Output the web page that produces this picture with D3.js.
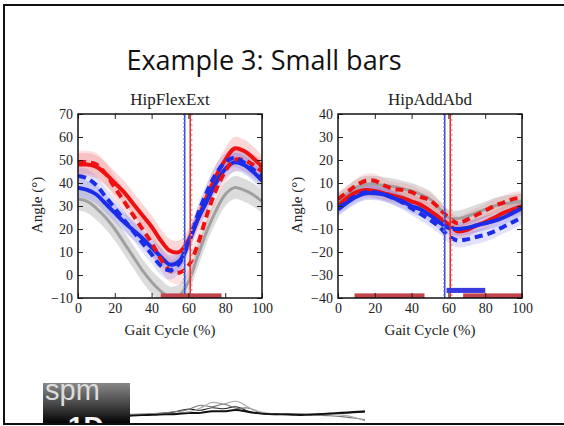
<!DOCTYPE html>
<meta charset="utf-8">
<style>
  body { margin: 0; background: white; }
  .tick text { font-family: "Liberation Serif", serif; font-size: 14px; fill: #222; }
  .axTitle { font-family: "Liberation Serif", serif; font-size: 17px; fill: #222; }
  .axLabel { font-family: "Liberation Serif", serif; font-size: 15px; fill: #222; }
</style>
<body>
<script src="https://d3js.org/d3.v7.min.js"></script>
<script>

// gait cycle samples (%)
var pct = [0, 5, 10, 15, 20, 25, 30, 35, 40, 45, 50, 55, 60, 65, 70, 75, 80, 85, 90, 95, 100];
var xTicks = [0, 20, 40, 60, 80, 100];

// HipFlexExt (deg)
var flexRed      = [48, 48, 47, 44, 40, 36, 31, 26, 21, 15, 10.5, 10, 15, 24, 34, 43, 50, 55, 54, 51, 47];
var flexRedDash  = [49, 49, 48, 44, 38, 32, 26, 20, 14, 7, 2, 1, 4, 13, 26, 37, 45, 50, 50, 48, 45];
var flexBlue     = [38, 37, 35, 31, 27, 23, 19.5, 16, 12, 8, 4.5, 6, 14, 24, 32, 40, 46, 49, 48, 45, 41];
var flexBlueDash = [43, 42, 39, 34, 29, 24, 19, 14, 9, 4, 2, 5, 14, 26, 36, 44, 49, 51, 49, 46, 43];
var flexGray     = [33, 32, 29, 25, 20, 14, 8, 2, -3, -7, -10, -9, -3, 8, 19, 28, 35, 38, 37, 35, 32];
var flexSdRed = 5, flexSdBlue = 4, flexSdGray = 5;
var flexYTicks = [-10, 0, 10, 20, 30, 40, 50, 60, 70];
var flexVLines = [58, 61];
var flexBarsRed = [[45, 78]];
var flexBarsBlue = [];

// HipAddAbd (deg)
var addRed      = [0, 3.5, 6, 7, 6.5, 5.5, 4.5, 3.5, 2, 0.5, -2, -5, -8, -11, -10.5, -8.5, -7, -5, -3, -1.5, 0];
var addRedDash  = [3, 6, 9, 11, 11, 9, 7.5, 7, 6, 4, 2.5, -1, -5, -7.5, -6, -4, -2, 0, 1.5, 3, 3.5];
var addBlue     = [-1.5, 1.5, 4, 5.5, 5.5, 5, 3.5, 2, 0, -1.5, -4, -7, -9.5, -10, -9.5, -8.5, -7.5, -6.5, -5, -3, -1];
var addBlueDash = [-1, 2, 4.5, 6, 6, 5, 3.5, 1.5, -1, -3.5, -6, -9, -13, -15, -14.5, -13.5, -12.5, -11, -9, -7, -5];
var addGray     = [2, 5, 8, 9.5, 9.5, 9, 8.5, 7.5, 6.5, 5, 3, -1, -5, -5.5, -4.5, -3, -1.5, 0, 1, 1.5, 2];
var addSdRed = 3, addSdBlue = 3, addSdGray = 3.5;
var addYTicks = [-40, -30, -20, -10, 0, 10, 20, 30, 40];
var addVLines = [58, 61];
var addBarsRed = [[9, 47], [68, 100]];
var addBarsBlue = [[59, 80]];

// logo traces (decoration)
var logoX = [0, 1, 2, 3, 4, 5, 6, 7, 8, 9, 10, 11, 12, 13, 14, 15, 16, 17, 18, 19, 20];
var logoTraces = [
  [0, 0.2, 0.5, 1, 2, 5, 2, 6, 3, 7, 2, 1, 0.5, 0.5, 1, 0.5, 0.2, 0.5, 1, 1.5, 2],
  [0.5, 0.5, 1, 1.5, 2.5, 3, 8, 4, 9, 3, 6, 1, 0, 0.5, 0.5, 1, 0, -0.5, -1, -2, -3],
  [0, 0, 0.5, 0.5, 1, 2, 4, 10, 6, 11, 5, 2, 1, 0, 0.5, 1, 1, 0.5, 0, -1, -4],
  [-0.5, 0, 0, 0.5, 0.5, 1.5, 1, 3, 2, 4, 2, 1, 0.5, 0.5, 0, 0, 0.5, 1, 1.5, 2, 2.5]
];

var svg = d3.select("body").append("svg")
    .attr("width", 564)
    .attr("height", 426);

// slide frame
svg.append("rect")
    .attr("x", 4).attr("y", 5)
    .attr("width", 600).attr("height", 419)
    .attr("fill", "none").attr("stroke", "#111").attr("stroke-width", 2);

svg.append("text")
    .attr("x", 264).attr("y", 70)
    .attr("text-anchor", "middle")
    .style("font-family", "Open Sans")
    .style("font-size", "27px")
    .style("fill", "#111")
    .text("Example 3: Small bars");

var panelW = 184, panelH = 184, panelTop = 114;

function drawPanel(id, left, title, yTicks, red, redDash, blue, blueDash, gray, sdRed, sdBlue, sdGray, vlines, barsRed, barsBlue) {
  var x = d3.scaleLinear().domain([0, 100]).range([0, panelW]);
  var y = d3.scaleLinear().domain([yTicks[0], yTicks[yTicks.length - 1]]).range([panelH, 0]);
  var unit = (yTicks[yTicks.length - 1] - yTicks[0]) / 80;

  var g = svg.append("g").attr("transform", "translate(" + left + "," + panelTop + ")");

  g.append("clipPath").attr("id", "clip" + id)
    .append("rect").attr("width", panelW).attr("height", panelH);
  var plot = g.append("g").attr("clip-path", "url(#clip" + id + ")");

  var line = function (vals) {
    return d3.line().curve(d3.curveCatmullRom)
      .x(function (d, i) { return x(pct[i]); })
      .y(function (d) { return y(d); })(vals);
  };
  var band = function (vals, sd) {
    return d3.area().curve(d3.curveCatmullRom)
      .x(function (d, i) { return x(pct[i]); })
      .y0(function (d) { return y(d - sd); })
      .y1(function (d) { return y(d + sd); })(vals);
  };

  // bands
  plot.append("path").attr("d", band(gray, sdGray)).attr("fill", "#9a9a9a").attr("fill-opacity", 0.35);
  plot.append("path").attr("d", band(red, sdRed)).attr("fill", "#f07070").attr("fill-opacity", 0.28);
  plot.append("path").attr("d", band(redDash, sdRed)).attr("fill", "#f07070").attr("fill-opacity", 0.2);
  plot.append("path").attr("d", band(blue, sdBlue)).attr("fill", "#7070f0").attr("fill-opacity", 0.25);
  plot.append("path").attr("d", band(blueDash, sdBlue)).attr("fill", "#7070f0").attr("fill-opacity", 0.2);

  // means
  plot.append("path").attr("d", line(gray)).attr("fill", "none").attr("stroke", "#a0a0a0").attr("stroke-width", 3);
  plot.append("path").attr("d", line(red)).attr("fill", "none").attr("stroke", "#ee1111").attr("stroke-width", 4);
  plot.append("path").attr("d", line(blue)).attr("fill", "none").attr("stroke", "#1b2de8").attr("stroke-width", 4);
  plot.append("path").attr("d", line(redDash)).attr("fill", "none").attr("stroke", "#ee1111").attr("stroke-width", 4).attr("stroke-dasharray", "8,5");
  plot.append("path").attr("d", line(blueDash)).attr("fill", "none").attr("stroke", "#1b2de8").attr("stroke-width", 4).attr("stroke-dasharray", "8,5");

  // event lines
  plot.append("line").attr("x1", x(vlines[0])).attr("x2", x(vlines[0])).attr("y1", 0).attr("y2", panelH)
    .attr("stroke", "#3344dd").attr("stroke-width", 1.5);
  plot.append("line").attr("x1", x(vlines[0] - 0.5)).attr("x2", x(vlines[0] - 0.5)).attr("y1", 0).attr("y2", panelH)
    .attr("stroke", "#8899ee").attr("stroke-width", 1).attr("stroke-dasharray", "2,2");
  plot.append("line").attr("x1", x(vlines[1])).attr("x2", x(vlines[1])).attr("y1", 0).attr("y2", panelH)
    .attr("stroke", "#e03030").attr("stroke-width", 1.5);
  plot.append("line").attr("x1", x(vlines[1] + 0.8)).attr("x2", x(vlines[1] + 0.8)).attr("y1", 0).attr("y2", panelH)
    .attr("stroke", "#f4a0a0").attr("stroke-width", 1.5).attr("stroke-dasharray", "2,3");

  // significance bars
  plot.selectAll(".barR").data(barsRed).enter().append("rect")
    .attr("x", function (d) { return x(d[0]); })
    .attr("width", function (d) { return x(d[1]) - x(d[0]); })
    .attr("y", y(yTicks[0] + 2 * unit))
    .attr("height", y(yTicks[0]) - y(yTicks[0] + 2 * unit))
    .attr("fill", "#c4424a");
  plot.selectAll(".barB").data(barsBlue).enter().append("rect")
    .attr("x", function (d) { return x(d[0]); })
    .attr("width", function (d) { return x(d[1]) - x(d[0]); })
    .attr("y", y(yTicks[0] + 4.4 * unit))
    .attr("height", y(yTicks[0] + 2.2 * unit) - y(yTicks[0] + 4.4 * unit))
    .attr("fill", "#3a3ae0");

  // axes, ticks inside on all sides
  g.append("g").attr("transform", "translate(0," + panelH + ")")
    .call(d3.axisBottom(x).tickValues(xTicks).tickSizeInner(-5).tickSizeOuter(0).tickPadding(5));
  g.append("g")
    .call(d3.axisTop(x).tickValues(xTicks).tickSizeInner(-5).tickSizeOuter(0).tickFormat(""));
  g.append("g")
    .call(d3.axisLeft(y).tickValues(yTicks).tickSizeInner(-5).tickSizeOuter(0).tickPadding(5)
      .tickFormat(function (d) { return d < 0 ? "\u2212" + Math.abs(d) : d; }));
  g.append("g").attr("transform", "translate(" + panelW + ",0)")
    .call(d3.axisRight(y).tickValues(yTicks).tickSizeInner(-5).tickSizeOuter(0).tickFormat(""));
  g.selectAll(".domain").remove();
  g.selectAll(".tick line").attr("stroke", "#222").attr("stroke-width", 1);

  g.append("rect").attr("width", panelW).attr("height", panelH)
    .attr("fill", "none").attr("stroke", "#111").attr("stroke-width", 1.5);

  g.append("text").attr("class", "axTitle")
    .attr("x", panelW / 2).attr("y", -9).attr("text-anchor", "middle").text(title);
  g.append("text").attr("class", "axLabel")
    .attr("x", panelW / 2).attr("y", panelH + 37).attr("text-anchor", "middle").text("Gait Cycle (%)");
  g.append("text").attr("class", "axLabel")
    .attr("transform", "translate(-36," + (panelH / 2 - 1) + ") rotate(-90)")
    .attr("text-anchor", "middle").text("Angle (\u00b0)");
}

drawPanel("a", 78, "HipFlexExt", flexYTicks, flexRed, flexRedDash, flexBlue, flexBlueDash, flexGray,
  flexSdRed, flexSdBlue, flexSdGray, flexVLines, flexBarsRed, flexBarsBlue);
drawPanel("b", 338, "HipAddAbd", addYTicks, addRed, addRedDash, addBlue, addBlueDash, addGray,
  addSdRed, addSdBlue, addSdGray, addVLines, addBarsRed, addBarsBlue);

// spm1d logo
var defs = svg.append("defs");
var grad = defs.append("linearGradient").attr("id", "logoGrad")
  .attr("x1", 0).attr("y1", 0).attr("x2", 0).attr("y2", 1);
grad.append("stop").attr("offset", "0%").attr("stop-color", "#888");
grad.append("stop").attr("offset", "55%").attr("stop-color", "#444");
grad.append("stop").attr("offset", "100%").attr("stop-color", "#050505");
defs.append("clipPath").attr("id", "logoClip")
  .append("rect").attr("x", 43).attr("y", 383).attr("width", 87).attr("height", 40);
var logo = svg.append("g").attr("clip-path", "url(#logoClip)");
logo.append("rect").attr("x", 43).attr("y", 383).attr("width", 87).attr("height", 40)
  .attr("fill", "url(#logoGrad)");
logo.append("text").attr("x", 45).attr("y", 400)
  .style("font-family", "Liberation Sans").style("font-size", "29px").style("fill", "#dcdcdc")
  .text("spm");
logo.append("text").attr("x", 68).attr("y", 436)
  .style("font-family", "Liberation Sans").style("font-weight", "bold").style("font-size", "28px").style("fill", "#f4f4f4")
  .text("1D");

var lx = d3.scaleLinear().domain([0, 20]).range([130, 365]);
var ly = d3.scaleLinear().domain([0, 12]).range([415, 397]);
var logoLine = d3.line().curve(d3.curveBasis)
  .x(function (d, i) { return lx(logoX[i]); })
  .y(function (d) { return ly(d); });
svg.selectAll(".logoTrace").data(logoTraces).enter().append("path")
  .attr("d", logoLine)
  .attr("fill", "none")
  .attr("stroke", function (d, i) { return ["#222", "#777", "#aaa", "#111"][i]; })
  .attr("stroke-width", function (d, i) { return i === 3 ? 2 : 1.2; });
</script>
</body>
